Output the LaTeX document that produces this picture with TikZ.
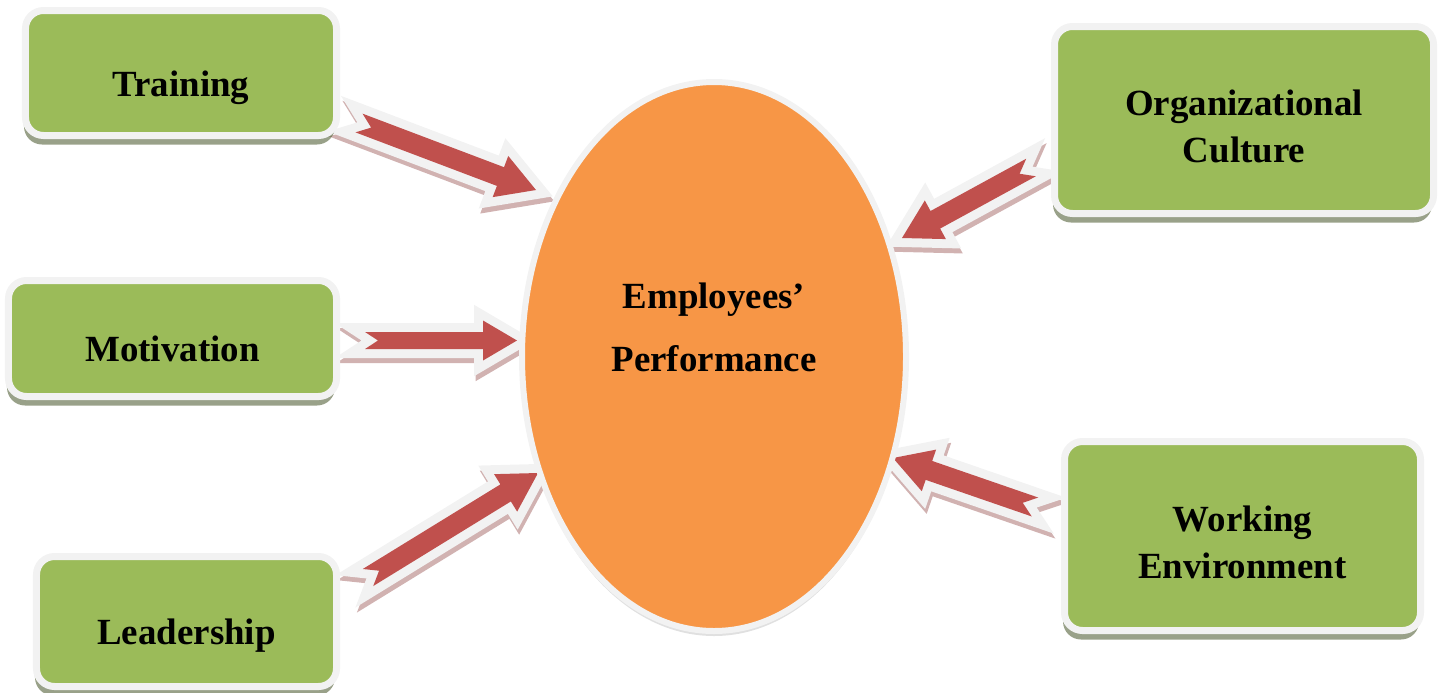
\documentclass[tikz,border=0pt]{standalone}
\usepackage{fontspec}
\setmainfont{Liberation Serif}
\usetikzlibrary{shapes.geometric,shadows,calc,backgrounds}

\definecolor{boxgreen}{HTML}{9BBB59}
\definecolor{edgegray}{HTML}{F2F2F2}
\definecolor{perforange}{HTML}{F79646}
\definecolor{arrowred}{HTML}{C0504D}

\tikzset{
  factor/.style={rectangle, rounded corners=3.6mm, fill=boxgreen, draw=edgegray,
    line width=1.4mm, inner sep=0pt, align=center, text height=31.5pt, text depth=5.25pt,
    drop shadow={shadow xshift=-0.3mm, shadow yshift=-1.8mm, fill=black!55!boxgreen, opacity=.55}},
  twoline/.style={text height=54pt},
  perfnode/.style={ellipse, fill=perforange, draw=edgegray, line width=1.2mm, inner sep=0pt,
    align=center, text height=31.7pt, text depth=14.5pt,
    drop shadow={shadow xshift=0mm, shadow yshift=-1mm, fill=black!40, opacity=.3}},
  blockarrow/.style={fill=arrowred,
    preaction={draw=arrowred!55!gray, opacity=.5, line width=3.6mm, line join=miter, miter limit=4,
      transform canvas={shift={(0.3mm,-1mm)}}},
    preaction={draw=edgegray, line width=3.6mm, line join=miter, miter limit=4}}
}

% notched block arrow: tail, tip, half shaft, half head, head length
\newcommand{\fatarrow}[5]{%
  \path[blockarrow] ($(#1)!#3!90:(#2)$) -- ($(#2)!#5!(#1)!#3!-90:(#1)$)
    -- ($(#2)!#5!(#1)!#4!-90:(#1)$) -- (#2)
    -- ($(#2)!#5!(#1)!#4!90:(#1)$) -- ($(#2)!#5!(#1)!#3!90:(#1)$)
    -- ($(#1)!#3!-90:(#2)$) -- ($(#1)!2.6mm!(#2)$) -- cycle;}

\begin{document}
\begin{tikzpicture}[x=0.2mm, y=-0.2mm,
  every node/.style={font=\bfseries\fontsize{21}{27}\selectfont}]
  \useasboundingbox (0,0) rectangle (1440,692);

  \node[perfnode, minimum width=76.8mm, minimum height=109.8mm] (perf) at (714,356.5)
    {Employees’\\[9pt]Performance};

  \node[factor, minimum width=62.2mm, minimum height=25mm] (train) at (181,73) {Training};
  \node[factor, minimum width=65.6mm, minimum height=23.2mm] (motiv) at (172.5,338.5) {Motivation};
  \node[factor, minimum width=60mm, minimum height=26mm] (lead) at (186.5,621.5) {Leadership};
  \node[factor, twoline, minimum width=75.8mm, minimum height=37.4mm] (orgc) at (1244,120)
    {Organizational\\Culture};
  \node[factor, twoline, minimum width=71.2mm, minimum height=37.8mm] (workenv) at (1242.5,536)
    {Working\\Environment};

  % arrow ends
  \coordinate (t1) at (359,123);   \coordinate (p1) at (536,190);
  \coordinate (t2) at (365,340.5); \coordinate (p2) at (517,340.5);
  \coordinate (t3) at (368,577.5); \coordinate (p3) at (538,473);
  \coordinate (t4) at (1031,167.5); \coordinate (p4) at (902,238);
  \coordinate (t5) at (1035,507);  \coordinate (p5) at (893,458);

  \begin{scope}[on background layer]
    \fatarrow{t1}{p1}{2mm}{4.4mm}{7.6mm}
    \fatarrow{t2}{p2}{1.7mm}{4mm}{6.8mm}
    \fatarrow{t3}{p3}{2mm}{4.4mm}{7.6mm}
    \fatarrow{t4}{p4}{2mm}{4.4mm}{7.6mm}
    \fatarrow{t5}{p5}{2mm}{4.4mm}{7.6mm}
  \end{scope}
\end{tikzpicture}
\end{document}
